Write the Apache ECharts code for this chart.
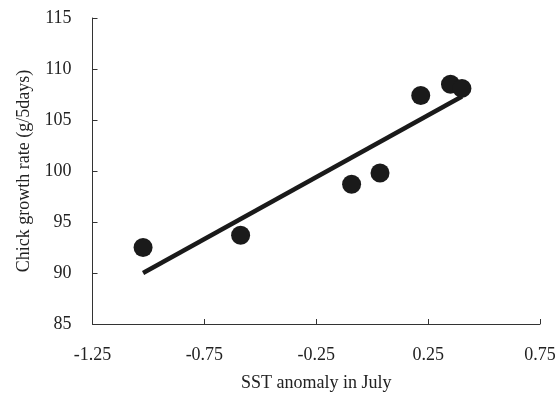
<!DOCTYPE html>
<html>
<head>
<meta charset="utf-8">
<script src="https://cdn.jsdelivr.net/npm/echarts@6/dist/echarts.min.js"></script>
<style>html,body{margin:0;padding:0;background:#fff}#c{width:559px;height:394px}</style>
</head>
<body>
<div id="c"></div>
<script>
const sstAnomaly = [-1.024, -0.588, -0.092, 0.035, 0.217, 0.350, 0.401];
const growthRate = [92.5, 93.7, 98.7, 99.8, 107.4, 108.5, 108.1];
const trendX = [-1.024, 0.401];
const trendY = [90.0, 107.3];
const xTitle = 'SST anomaly in July';
const yTitle = 'Chick growth rate (g/5days)';

const font = 'Liberation Serif';
const axisColor = '#333';
const chart = echarts.init(document.getElementById('c'));
chart.setOption({
  animation: false,
  grid: {left: 92.5, right: 19, top: 18, bottom: 70, containLabel: false, outerBoundsMode: 'none'},
  xAxis: {
    type: 'value', min: -1.25, max: 0.75, interval: 0.5,
    name: xTitle, nameLocation: 'middle', nameGap: 50,
    nameTextStyle: {fontFamily: font, fontSize: 18, color: '#222'},
    axisLine: {onZero: false, lineStyle: {color: axisColor, width: 1}},
    axisTick: {inside: true, length: 5, lineStyle: {color: axisColor}},
    axisLabel: {margin: 22, fontFamily: font, fontSize: 18, color: '#222',
      formatter: v => v.toFixed(2)},
    splitLine: {show: false}
  },
  yAxis: {
    type: 'value', min: 85, max: 115, interval: 5,
    name: yTitle, nameLocation: 'middle', nameGap: 56, nameRotate: 90,
    nameTextStyle: {fontFamily: font, fontSize: 18, color: '#222'},
    axisLine: {show: true, onZero: false, lineStyle: {color: axisColor, width: 1}},
    axisTick: {show: true, inside: true, length: 5, lineStyle: {color: axisColor}},
    axisLabel: {margin: 21, fontFamily: font, fontSize: 18, color: '#222'},
    splitLine: {show: false}
  },
  series: [
    {
      type: 'line', data: trendX.map((x, i) => [x, trendY[i]]),
      symbol: 'none', lineStyle: {color: '#1a1a1a', width: 4.5}, z: 2
    },
    {
      type: 'scatter', data: sstAnomaly.map((x, i) => [x, growthRate[i]]),
      symbolSize: 19, itemStyle: {color: '#1a1a1a', opacity: 1}, z: 3
    }
  ]
});
</script>
</body>
</html>
